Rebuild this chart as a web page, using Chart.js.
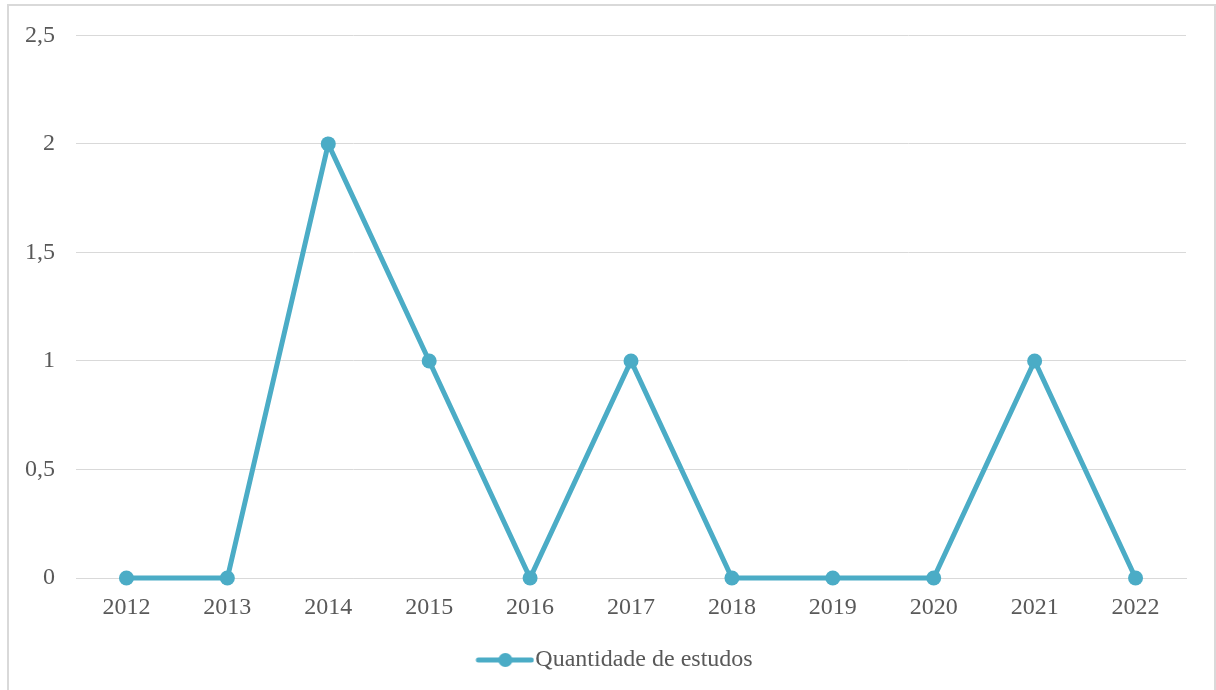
<!DOCTYPE html>
<html lang="pt">
<head>
    <meta charset="UTF-8">
    <title>Quantidade de estudos</title>
    <style>
        body { margin: 0; background: #fff; }
        #frame {
            position: absolute;
            left: 7px; top: 4px;
            width: 1205px; height: 700px;
            border: 2px solid #d9d9d9;
        }
        #chart-box {
            position: absolute;
            left: 0; top: 0;
            width: 1216px; height: 690px;
        }
    </style>
    <script src="https://cdn.jsdelivr.net/npm/chart.js@4.4.0/dist/chart.umd.min.js"></script>
</head>
<body>

<div id="frame"></div>
<div id="chart-box"><canvas id="studiesChart"></canvas></div>

<script>
    const years = ['2012', '2013', '2014', '2015', '2016', '2017', '2018', '2019', '2020', '2021', '2022'];
    const studies = [0, 0, 2, 1, 0, 1, 0, 0, 0, 1, 0];
    const seriesName = 'Quantidade de estudos';

    const lineColor = '#4bacc6';
    const textColor = '#595959';
    const gridColor = '#d9d9d9';

    // legend marker: short line with a dot; drawn wider than the legend box
    // so that it sits close to the text, like the office style
    const marker = document.createElement('canvas');
    marker.width = 70;
    marker.height = 16;
    const mctx = marker.getContext('2d');
    mctx.strokeStyle = lineColor;
    mctx.lineWidth = 5;
    mctx.lineCap = 'round';
    mctx.beginPath();
    mctx.moveTo(14, 8);
    mctx.lineTo(67, 8);
    mctx.stroke();
    mctx.fillStyle = lineColor;
    mctx.beginPath();
    mctx.arc(41, 8, 7, 0, Math.PI * 2);
    mctx.fill();

    // the legend sits a little right of the canvas centre in the original
    const shiftLegend = {
        id: 'shiftLegend',
        afterLayout(chart) {
            if (chart.legend) chart.legend.left += 42;
        }
    };

    Chart.defaults.font.family = "'Liberation Serif', 'Times New Roman', serif";
    Chart.defaults.font.size = 24;
    Chart.defaults.color = textColor;

    new Chart(document.getElementById('studiesChart'), {
        type: 'line',
        data: {
            labels: years,
            datasets: [{
                label: seriesName,
                data: studies,
                borderColor: lineColor,
                backgroundColor: lineColor,
                borderWidth: 5,
                pointRadius: 7.5,
                pointHoverRadius: 7.5,
                pointBorderWidth: 0,
                tension: 0,
                clip: false
            }]
        },
        options: {
            responsive: true,
            maintainAspectRatio: false,
            animation: false,
            layout: { padding: { left: 0, right: 30, top: 34, bottom: 8 } },
            plugins: {
                tooltip: { enabled: false },
                legend: {
                    position: 'bottom',
                    labels: {
                        usePointStyle: true,
                        pointStyle: marker,
                        pointStyleWidth: 48,
                        padding: 10,
                        color: textColor
                    }
                }
            },
            scales: {
                x: {
                    offset: true,
                    grid: { display: false, drawTicks: false },
                    border: { display: true, color: gridColor, width: 1 },
                    ticks: { padding: 15, color: textColor, maxRotation: 0 },
                    afterFit: (scale) => { scale.height = 60; }
                },
                y: {
                    min: 0,
                    max: 2.5,
                    grid: { color: gridColor, lineWidth: 1, drawTicks: false },
                    border: { display: false },
                    ticks: {
                        stepSize: 0.5,
                        padding: 21,
                        color: textColor,
                        callback: (v) => String(v).replace('.', ',')
                    },
                    afterFit: (scale) => { scale.width = 76; }
                }
            }
        },
        plugins: [shiftLegend]
    });
</script>

</body>
</html>
